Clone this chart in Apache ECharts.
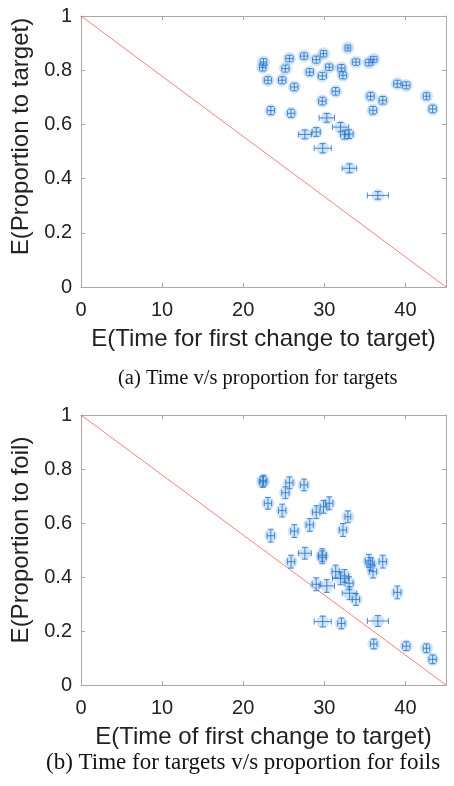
<!DOCTYPE html>
<html style="height: 100%; margin: 0;">
<head>
<meta charset="utf-8" />
<title></title>
<script src="https://cdn.jsdelivr.net/npm/echarts@6/dist/echarts.min.js"></script>
</head>
<body style="height: 100%; margin: 0; background: #fff;">
<div id="main" style="width: 454px; height: 786px;"></div>
<script type="text/javascript">
// time to first change (same for both panels)
var timeX = [22.5, 22.4, 25.7, 27.5, 29.9, 29.0, 32.9, 33.9, 35.5, 36.1,
             25.2, 28.2, 30.6, 32.1, 29.75, 32.3, 23.05, 24.8, 26.3, 39.0,
             40.1, 31.4, 42.6, 35.7, 37.2, 29.75, 43.35, 36.0, 23.4, 25.9,
             30.3, 32.0, 29.0, 27.6, 32.5, 33.05, 29.8, 33.1, 36.6];
var timeErr = [0.4, 0.4, 0.45, 0.45, 0.4, 0.45, 0.35, 0.45, 0.45, 0.4,
               0.45, 0.45, 0.45, 0.45, 0.5, 0.45, 0.45, 0.45, 0.45, 0.45,
               0.45, 0.45, 0.4, 0.45, 0.45, 0.45, 0.45, 0.45, 0.45, 0.45,
               0.95, 1.0, 0.5, 0.8, 0.5, 0.5, 1.05, 0.9, 1.3];
// panel (a): proportion to target
var propTarget = [0.830, 0.810, 0.843, 0.852, 0.861, 0.839, 0.882, 0.830, 0.828, 0.840,
                  0.806, 0.793, 0.811, 0.808, 0.779, 0.781, 0.763, 0.763, 0.738, 0.750,
                  0.744, 0.722, 0.704, 0.704, 0.689, 0.686, 0.657, 0.652, 0.651, 0.641,
                  0.624, 0.590, 0.572, 0.563, 0.562, 0.564, 0.512, 0.438, 0.338];
var targetErr = [0.013, 0.013, 0.012, 0.012, 0.012, 0.013, 0.011, 0.012, 0.012, 0.011,
                 0.013, 0.013, 0.012, 0.013, 0.013, 0.013, 0.013, 0.013, 0.014, 0.013,
                 0.013, 0.014, 0.013, 0.014, 0.014, 0.014, 0.014, 0.014, 0.015, 0.015,
                 0.016, 0.017, 0.016, 0.016, 0.016, 0.016, 0.017, 0.016, 0.014];
// panel (b): proportion to foil
var propFoil = [0.757, 0.752, 0.749, 0.741, 0.660, 0.640, 0.623, 0.317, 0.460, 0.152,
                0.712, 0.593, 0.673, 0.228, 0.481, 0.574, 0.673, 0.646, 0.570, 0.343,
                0.144, 0.420, 0.136, 0.448, 0.457, 0.473, 0.095, 0.420, 0.553, 0.457,
                0.367, 0.395, 0.373, 0.488, 0.404, 0.377, 0.235, 0.340, 0.237];
var foilErr = [0.020, 0.020, 0.022, 0.022, 0.024, 0.024, 0.022, 0.022, 0.024, 0.018,
               0.022, 0.024, 0.024, 0.020, 0.024, 0.024, 0.022, 0.024, 0.024, 0.024,
               0.016, 0.024, 0.016, 0.024, 0.024, 0.024, 0.016, 0.024, 0.024, 0.024,
               0.024, 0.024, 0.024, 0.022, 0.024, 0.024, 0.020, 0.024, 0.020];
// diagonal reference line
var diagLine = [[0, 1], [45, 0]];

var dataA = timeX.map(function (x, i) { return [x, propTarget[i], timeErr[i], targetErr[i]]; });
var dataB = timeX.map(function (x, i) { return [x, propFoil[i], timeErr[i], foilErr[i]]; });

var myChart = echarts.init(document.getElementById('main'));

var frameColor = '#a8a8a8';
var labelFont = "'Liberation Sans', Arial, sans-serif";
var barColor = 'rgba(40,120,200,0.85)';
var dotColor = 'rgba(95,160,225,0.36)';

function renderErr(params, api) {
    var x = api.value(0), y = api.value(1), ex = api.value(2), ey = api.value(3);
    var c = api.coord([x, y]);
    var l = api.coord([x - ex, y]), r = api.coord([x + ex, y]);
    var t = api.coord([x, y + ey]), b = api.coord([x, y - ey]);
    var cap = 3;
    var st = { stroke: barColor, lineWidth: 1 };
    return {
        type: 'group',
        children: [
            { type: 'line', shape: { x1: l[0], y1: c[1], x2: r[0], y2: c[1] }, style: st },
            { type: 'line', shape: { x1: l[0], y1: c[1] - cap, x2: l[0], y2: c[1] + cap }, style: st },
            { type: 'line', shape: { x1: r[0], y1: c[1] - cap, x2: r[0], y2: c[1] + cap }, style: st },
            { type: 'line', shape: { x1: c[0], y1: t[1], x2: c[0], y2: b[1] }, style: st },
            { type: 'line', shape: { x1: c[0] - cap, y1: t[1], x2: c[0] + cap, y2: t[1] }, style: st },
            { type: 'line', shape: { x1: c[0] - cap, y1: b[1], x2: c[0] + cap, y2: b[1] }, style: st }
        ]
    };
}

function xAx(gi, pos, name, labels) {
    return {
        type: 'value', gridIndex: gi, position: pos, min: 0, max: 45, interval: 10,
        name: labels ? name : '', nameLocation: 'middle', nameGap: 40,
        nameTextStyle: { fontFamily: labelFont, fontSize: 24, color: '#222' },
        axisLine: { show: true, onZero: false, lineStyle: { color: frameColor } },
        axisTick: { show: true, inside: true, length: 4, lineStyle: { color: frameColor } },
        axisLabel: { show: labels, showMaxLabel: false, margin: 13, fontFamily: labelFont, fontSize: 20, color: '#222' },
        splitLine: { show: false }
    };
}
function yAx(gi, pos, name, labels, shift) {
    return {
        type: 'value', gridIndex: gi, position: pos, min: 0, max: 1, interval: 0.2,
        name: labels ? name : '', nameLocation: 'middle', nameGap: 44,
        nameTextStyle: { fontFamily: labelFont, fontSize: 24, color: '#222', padding: [0, 0, 0, shift || 0] },
        axisLine: { show: true, onZero: false, lineStyle: { color: frameColor } },
        axisTick: { show: true, inside: true, length: 4, lineStyle: { color: frameColor } },
        axisLabel: { show: labels, margin: 9, fontFamily: labelFont, fontSize: 20, color: '#222' },
        splitLine: { show: false }
    };
}

myChart.setOption({
    animation: false,
    grid: [
        { left: 81, right: 8, top: 16, height: 271 },
        { left: 81, right: 8, top: 415, height: 270 }
    ],
    xAxis: [
        xAx(0, 'bottom', 'E(Time for first change to target)', true),
        xAx(0, 'top', '', false),
        xAx(1, 'bottom', 'E(Time of first change to target)', true),
        xAx(1, 'top', '', false)
    ],
    yAxis: [
        yAx(0, 'left', 'E(Proportion to target)', true, 30),
        yAx(0, 'right', '', false),
        yAx(1, 'left', 'E(Proportion to foil)', true, 20),
        yAx(1, 'right', '', false)
    ],
    graphic: [
        { type: 'text', left: 118, top: 368, style: { text: '(a) Time v/s proportion for targets', font: "20.5px 'Liberation Serif', 'Times New Roman', serif", fill: '#111' } },
        { type: 'text', left: 46, top: 751, style: { text: '(b) Time for targets v/s proportion for foils', font: "23px 'Liberation Serif', 'Times New Roman', serif", fill: '#111' } }
    ],
    series: [
        { type: 'line', xAxisIndex: 0, yAxisIndex: 0, data: diagLine, symbol: 'none', lineStyle: { color: '#ff5a5a', width: 0.8 }, z: 1 },
        { type: 'scatter', xAxisIndex: 0, yAxisIndex: 0, data: dataA, symbolSize: 13, itemStyle: { color: dotColor }, z: 2 },
        { type: 'custom', xAxisIndex: 0, yAxisIndex: 0, data: dataA, renderItem: renderErr, z: 3 },
        { type: 'line', xAxisIndex: 2, yAxisIndex: 2, data: diagLine, symbol: 'none', lineStyle: { color: '#ff5a5a', width: 0.8 }, z: 1 },
        { type: 'scatter', xAxisIndex: 2, yAxisIndex: 2, data: dataB, symbolSize: 13, itemStyle: { color: dotColor }, z: 2 },
        { type: 'custom', xAxisIndex: 2, yAxisIndex: 2, data: dataB, renderItem: renderErr, z: 3 }
    ]
});
window.onresize = myChart.resize;
</script>
</body>
</html>
